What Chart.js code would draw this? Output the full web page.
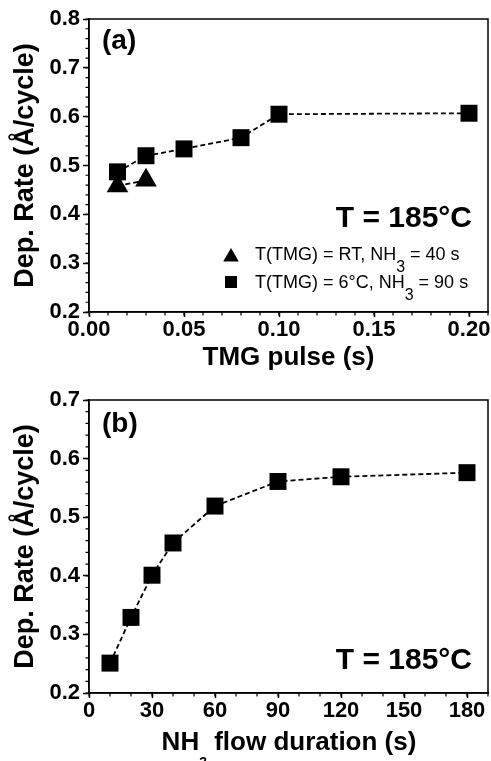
<!DOCTYPE html>
<html>
<head>
<meta charset="utf-8">
<script src="https://cdn.jsdelivr.net/npm/chart.js@4.4.0/dist/chart.umd.min.js"></script>
<style>
  html, body { margin: 0; padding: 0; background: #fff; }
  canvas { display: block; }
</style>
</head>
<body>
<canvas id="chartPulse" width="491" height="380"></canvas>
<canvas id="chartFlow" width="491" height="381"></canvas>
<script>
// (a) TMG pulse series
const pulseTimes = [0.015, 0.03, 0.05, 0.08, 0.10, 0.20];
const rateSquares = [0.487, 0.520, 0.534, 0.557, 0.605, 0.607];
const pulseTimesRT = [0.015, 0.03];
const rateTriangles = [0.458, 0.470];

// (b) NH3 flow series
const flowTimes = [10, 20, 30, 40, 60, 90, 120, 180];
const rateFlow = [0.251, 0.329, 0.401, 0.456, 0.519, 0.561, 0.569, 0.576];

// tick labels
const ticksPulse = [0, 0.05, 0.10, 0.15, 0.20];
const ticksRateA = [0.2, 0.3, 0.4, 0.5, 0.6, 0.7, 0.8];
const ticksFlow = [0, 30, 60, 90, 120, 150, 180];
const ticksRateB = [0.2, 0.3, 0.4, 0.5, 0.6, 0.7];

const FONT = '"Liberation Sans", Arial, Helvetica, sans-serif';

const range = (a, b, step) => {
    const out = [];
    for (let i = 0; a + i * step <= b + 1e-9; i++) out.push(+(a + i * step).toFixed(4));
    return out;
}

// draw text made of parts (for subscripts)
const drawRich = (ctx, t) => {
    let w = 0;
    t.parts.forEach(p => { ctx.font = p.font; w += ctx.measureText(p.text).width; });
    let x = t.x;
    if (t.align === 'right') x -= w;
    if (t.align === 'center') x -= w / 2;
    ctx.fillStyle = '#000';
    ctx.textBaseline = 'alphabetic';
    ctx.textAlign = 'left';
    t.parts.forEach(p => {
        ctx.font = p.font;
        ctx.fillText(p.text, x, t.y + (p.dy || 0));
        x += ctx.measureText(p.text).width;
    });
}

const drawMarker = (ctx, style, x, y, r) => {
    ctx.fillStyle = '#000';
    ctx.beginPath();
    if (style === 'triangle') {
        ctx.moveTo(x, y - r);
        ctx.lineTo(x + r * Math.sqrt(3) / 2, y + r / 2);
        ctx.lineTo(x - r * Math.sqrt(3) / 2, y + r / 2);
        ctx.closePath();
    } else {
        const s = r * Math.SQRT1_2;
        ctx.rect(x - s, y - s, 2 * s, 2 * s);
    }
    ctx.fill();
}

const frame = {
    id: 'frame',
    afterDraw(chart, args, opts) {
        const { ctx, chartArea: a, scales: { x, y } } = chart;
        ctx.save();
        ctx.strokeStyle = '#000';
        ctx.lineWidth = 1.5;
        ctx.strokeRect(a.left, a.top, a.right - a.left, a.bottom - a.top);
        ctx.lineWidth = 1.2;
        ctx.beginPath();
        opts.minorX.forEach(v => {
            const px = x.getPixelForValue(v);
            ctx.moveTo(px, a.bottom); ctx.lineTo(px, a.bottom + 3.5);
        });
        opts.minorY.forEach(v => {
            const py = y.getPixelForValue(v);
            ctx.moveTo(a.left, py); ctx.lineTo(a.left - 3.5, py);
        });
        ctx.stroke();
        (opts.markers || []).forEach(m => drawMarker(ctx, m.style, m.x, m.y, m.r));
        (opts.texts || []).forEach(t => drawRich(ctx, t));
        ctx.restore();
    }
};

const tickFont = { family: FONT, size: 22, weight: 'bold' };

const xAxis = (max, ticks, fmt, title) => ({
    type: 'linear', min: 0, max,
    afterBuildTicks: s => { s.ticks = ticks.map(v => ({ value: v })); },
    afterFit: s => { s.height = 68; s.paddingLeft = 0; s.paddingRight = 0; },
    ticks: { color: '#000', font: tickFont, padding: 0, autoSkip: false, maxRotation: 0, callback: fmt },
    grid: { drawOnChartArea: false, tickLength: 5, tickWidth: 1.5, tickColor: '#000' },
    border: { color: '#000', width: 1.5 },
    title: title
        ? { display: true, text: title, color: '#000', font: { family: FONT, size: 26, weight: 'bold' }, padding: { top: 0, bottom: 7 } }
        : { display: false }
});

const yAxis = (min, max, ticks) => ({
    min, max,
    afterBuildTicks: s => { s.ticks = ticks.map(v => ({ value: v })); },
    afterFit: s => { s.width = 89; },
    ticks: { color: '#000', font: tickFont, padding: 3, autoSkip: false, callback: v => v.toFixed(1) },
    grid: { drawOnChartArea: false, tickLength: 6, tickWidth: 1.5, tickColor: '#000' },
    border: { color: '#000', width: 1.5 },
    title: { display: true, text: 'Dep. Rate (Å/cycle)', color: '#000', font: { family: FONT, size: 27, weight: 'bold' }, padding: { top: 9, bottom: 0 } }
});

const serie = (xs, ys, style) => ({
    data: xs.map((v, i) => ({ x: v, y: ys[i] })),
    showLine: true,
    borderColor: '#000',
    borderWidth: 1.8,
    borderDash: [5, 3],
    pointStyle: style,
    pointRadius: style === 'triangle' ? 12.5 : 12,
    pointBackgroundColor: '#000',
    pointBorderWidth: 0,
    clip: false
});

const big = `bold 30px ${FONT}`;
const lab = `bold 28px ${FONT}`;
const leg = `18px ${FONT}`;
const legSub = `16px ${FONT}`;

new Chart(document.getElementById('chartPulse'), {
    type: 'scatter',
    data: {
        datasets: [
            serie(pulseTimesRT, rateTriangles, 'triangle'),
            serie(pulseTimes, rateSquares, 'rect')
        ]
    },
    options: {
        responsive: false,
        animation: false,
        events: [],
        layout: { autoPadding: false, padding: { top: 19, right: 3, left: 0, bottom: 0 } },
        plugins: {
            legend: { display: false },
            tooltip: { enabled: false },
            frame: {
                minorX: range(0, 0.21, 0.01),
                minorY: range(0.2, 0.8, 0.02),
                markers: [
                    { style: 'triangle', x: 231, y: 257, r: 9 },
                    { style: 'rect', x: 231, y: 282, r: 8.5 }
                ],
                texts: [
                    { x: 102, y: 49, align: 'left', parts: [{ text: '(a)', font: lab }] },
                    { x: 472, y: 227, align: 'right', parts: [{ text: 'T = 185°C', font: big }] },
                    { x: 255, y: 260, align: 'left', parts: [
                        { text: 'T(TMG) = RT, NH', font: leg },
                        { text: '3', font: legSub, dy: 12 },
                        { text: ' = 40 s', font: leg }
                    ] },
                    { x: 255, y: 288, align: 'left', parts: [
                        { text: 'T(TMG) = 6°C, NH', font: leg },
                        { text: '3', font: legSub, dy: 12 },
                        { text: ' = 90 s', font: leg }
                    ] }
                ]
            }
        },
        scales: {
            x: xAxis(0.21, ticksPulse, v => v.toFixed(2), 'TMG pulse (s)'),
            y: yAxis(0.2, 0.8, ticksRateA)
        }
    },
    plugins: [frame]
});

new Chart(document.getElementById('chartFlow'), {
    type: 'scatter',
    data: {
        datasets: [serie(flowTimes, rateFlow, 'rect')]
    },
    options: {
        responsive: false,
        animation: false,
        events: [],
        layout: { autoPadding: false, padding: { top: 20, right: 3, left: 0, bottom: 0 } },
        plugins: {
            legend: { display: false },
            tooltip: { enabled: false },
            frame: {
                minorX: range(0, 190, 10),
                minorY: range(0.2, 0.7, 0.02),
                texts: [
                    { x: 102, y: 52, align: 'left', parts: [{ text: '(b)', font: lab }] },
                    { x: 472, y: 289, align: 'right', parts: [{ text: 'T = 185°C', font: big }] },
                    { x: 289, y: 370, align: 'center', parts: [
                        { text: 'NH', font: `bold 26px ${FONT}` },
                        { text: '3', font: `bold 14px ${FONT}`, dy: 17 },
                        { text: ' flow duration (s)', font: `bold 26px ${FONT}` }
                    ] }
                ]
            }
        },
        scales: {
            x: xAxis(190, ticksFlow, v => String(v), null),
            y: yAxis(0.2, 0.7, ticksRateB)
        }
    },
    plugins: [frame]
});
</script>
</body>
</html>
